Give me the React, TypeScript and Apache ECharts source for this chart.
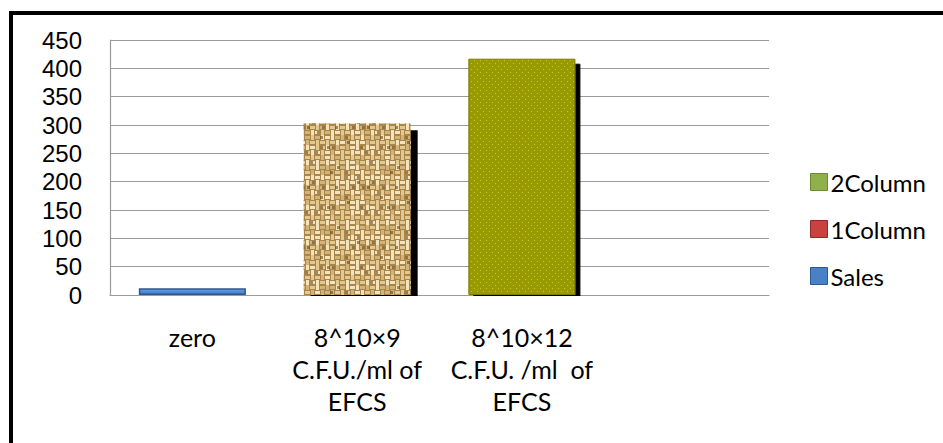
import React, { useEffect, useRef } from "react";
import * as echarts from "echarts";

const categories = [
  "zero",
  "8^10×9\nC.F.U./ml of\nEFCS",
  "8^10×12\nC.F.U. /ml  of\nEFCS",
  "",
];
const salesValues = [12, null, null, null];
const column1Values = [null, 303, null, null];
const column2Values = [null, null, 417, null];
const yTicks = { min: 0, max: 450, interval: 50 };

// small deterministic hash for texture variation
function hash(x: number, y: number): number {
  let h = (x * 374761393 + y * 668265263) | 0;
  h = (h ^ (h >>> 13)) * 1274126177;
  h = h ^ (h >>> 16);
  return ((h >>> 0) % 1000) / 1000;
}

// woven burlap look
function makeBurlap(): HTMLCanvasElement {
  const size = 60;
  const c = document.createElement("canvas");
  c.width = size;
  c.height = size;
  const g = c.getContext("2d")!;
  g.fillStyle = "#a9854c";
  g.fillRect(0, 0, size, size);
  const cell = 5;
  const n = size / cell;
  for (let i = 0; i < n; i++) {
    for (let j = 0; j < n; j++) {
      const x = i * cell;
      const y = j * cell;
      const v = hash(i, j);
      const w = hash(j + 17, i + 5);
      g.fillStyle = v > 0.55 ? "#f4e4bd" : v > 0.25 ? "#e2c990" : "#d2b478";
      if ((i + (j >> 1)) % 2 === 0) {
        g.fillRect(x, y + 1, cell, 3);
      } else {
        g.fillRect(x + 1, y, 3, cell);
      }
      if (w < 0.2) {
        g.fillStyle = "rgba(95,62,22,0.55)";
        g.fillRect(x + (w < 0.1 ? 0 : 2), y + 1, 3, 3);
      }
    }
  }
  return c;
}

// olive fill with small yellow dots
function makeOlive(): HTMLCanvasElement {
  const c = document.createElement("canvas");
  c.width = 6;
  c.height = 6;
  const g = c.getContext("2d")!;
  g.fillStyle = "#999900";
  g.fillRect(0, 0, 6, 6);
  g.fillStyle = "#c9c914";
  g.fillRect(0, 0, 1, 1);
  g.fillRect(3, 3, 1, 1);
  return c;
}

export default function App() {
  const ref = useRef<HTMLDivElement>(null);

  useEffect(() => {
    if (!ref.current) return;
    const chart = echarts.init(ref.current, null, { renderer: "svg" });
    const burlap = makeBurlap();
    const olive = makeOlive();
    const labelFont = "Lato, 'Open Sans', sans-serif";

    chart.setOption({
      animation: false,
      backgroundColor: "#ffffff",
      grid: { left: 110, right: 174, top: 40, bottom: 148 },
      legend: {
        orient: "vertical",
        left: 810,
        top: 170,
        itemWidth: 17,
        itemHeight: 17,
        itemGap: 23,
        padding: 0,
        icon: "rect",
        textStyle: {
          fontFamily: labelFont,
          fontSize: 24,
          lineHeight: 24,
          color: "#000",
          padding: [0, 0, 0, -2],
        },
        data: [
          { name: "2Column", itemStyle: { color: "#8fb04a", borderColor: "#6a8a33", borderWidth: 1 } },
          { name: "1Column", itemStyle: { color: "#c8423f", borderColor: "#8f2a28", borderWidth: 1 } },
          { name: "Sales", itemStyle: { color: "#4a80c6", borderColor: "#2c5a91", borderWidth: 1 } },
        ],
      },
      xAxis: {
        type: "category",
        data: categories,
        axisLine: { show: true, lineStyle: { color: "#9a9a9a", width: 1.2 } },
        axisTick: { show: false },
        axisLabel: {
          interval: 0,
          margin: 26,
          fontFamily: labelFont,
          fontSize: 25,
          lineHeight: 32,
          color: "#000",
        },
      },
      yAxis: {
        type: "value",
        min: yTicks.min,
        max: yTicks.max,
        interval: yTicks.interval,
        axisLine: { show: true, lineStyle: { color: "#9a9a9a", width: 1.2 } },
        axisTick: { show: false },
        splitLine: { lineStyle: { color: "#9a9a9a", width: 1.2 } },
        axisLabel: {
          margin: 28,
          fontFamily: "'Liberation Sans', Arial, sans-serif",
          fontSize: 24,
          color: "#000",
        },
      },
      series: [
        {
          name: "Sales",
          type: "bar",
          data: salesValues,
          barWidth: "65%",
          barGap: "-100%",
          itemStyle: {
            color: {
              type: "linear", x: 0, y: 0, x2: 0, y2: 1,
              colorStops: [
                { offset: 0, color: "#6aa0e6" },
                { offset: 1, color: "#3f78c4" },
              ],
            },
            borderColor: "#2c5a91",
            borderWidth: 1.5,
          },
        },
        {
          name: "1Column",
          type: "bar",
          data: column1Values,
          barWidth: "65%",
          barGap: "-100%",
          itemStyle: {
            color: { image: burlap, repeat: "repeat" },
            shadowColor: "#000",
            shadowBlur: 0,
            shadowOffsetX: 7,
            shadowOffsetY: 7,
          },
        },
        {
          name: "2Column",
          type: "bar",
          data: column2Values,
          barWidth: "65%",
          barGap: "-100%",
          itemStyle: {
            color: { image: olive, repeat: "repeat" },
            borderColor: "#7d7d00",
            borderWidth: 1,
            shadowColor: "#000",
            shadowBlur: 0,
            shadowOffsetX: 5,
            shadowOffsetY: 5,
          },
        },
      ],
      graphic: [
        // keeps bar shadows inside the plot area
        { type: "rect", z: 100, shape: { x: 110, y: 296, width: 660, height: 8 }, style: { fill: "#fff" } },
        // frame around the chart
        { type: "rect", z: 100, shape: { x: 9, y: 11, width: 940, height: 4 }, style: { fill: "#000" } },
        { type: "rect", z: 100, shape: { x: 9, y: 11, width: 4, height: 440 }, style: { fill: "#000" } },
      ],
    });

    return () => chart.dispose();
  }, []);

  return (
    <div
      ref={ref}
      style={{ position: "fixed", left: 0, top: 0, width: 943, height: 443 }}
    />
  );
}
